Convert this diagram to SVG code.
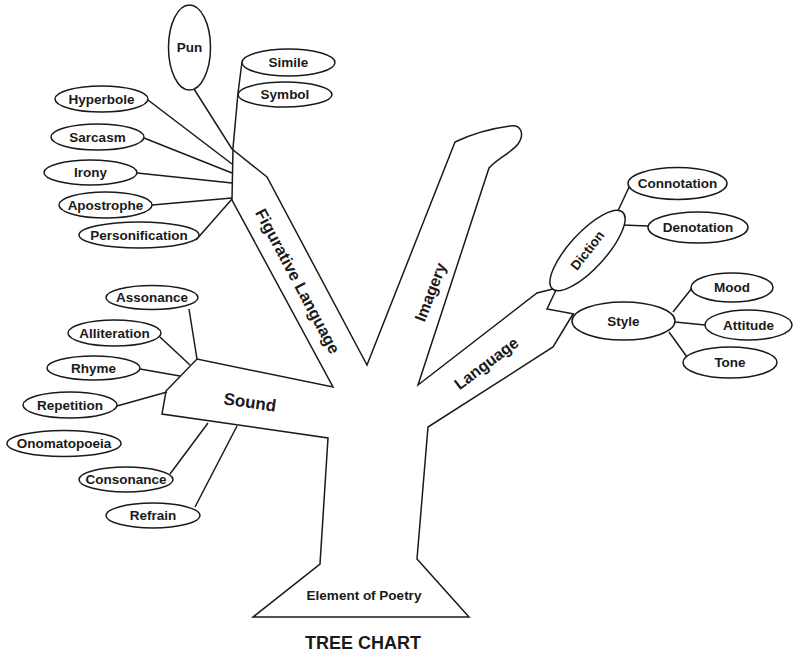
<svg xmlns="http://www.w3.org/2000/svg" width="793" height="652" viewBox="0 0 793 652">
<style>
.bg{fill:#fff}
.n ellipse{fill:#fff;stroke:#1a1a1a;stroke-width:1.5}
.n text,.lbl{font-family:"Liberation Sans",Arial,sans-serif;font-weight:bold;fill:#1a1a1a;text-anchor:middle}
.n text{font-size:13.5px}
.c polyline,.c line,.c path{fill:none;stroke:#1a1a1a;stroke-width:1.5;stroke-linejoin:miter}
</style>
<rect class="bg" width="793" height="652"/>
<g id="connectors" class="c">
<path id="tree-upper" d="M194,89 L232,149 L267,177 L367,365 L455,142 Q480,130 510,126 C521,124 525,134 518,144 C511,153 498,158 489,168 L418,385 L537,293 L557,288"/>
<path id="tree-lower" d="M242,62 L238,93 L233,148 L232,200 L333,387 L197,359 L166,391 L162,414 L328,438 L320,564 L253,617 L469,617 L417,559 L428,427 L553,347 L573,314"/>
<polyline points="557,288 547,309 574,314"/>
<line x1="148" y1="100" x2="232" y2="164"/>
<line x1="144" y1="138" x2="232" y2="173"/>
<line x1="137" y1="173" x2="232" y2="183"/>
<line x1="152" y1="205" x2="232" y2="198"/>
<line x1="196" y1="240" x2="232" y2="199"/>
<line x1="189" y1="309" x2="197" y2="359"/>
<line x1="160" y1="337" x2="190" y2="365"/>
<line x1="140" y1="369" x2="180" y2="376"/>
<line x1="117" y1="406" x2="167" y2="392"/>
<line x1="170" y1="474" x2="208" y2="423"/>
<line x1="195" y1="507" x2="237" y2="426"/>
<line x1="617" y1="213" x2="630" y2="185"/>
<line x1="622" y1="225" x2="648" y2="226"/>
<line x1="673" y1="312" x2="692" y2="288"/>
<line x1="675" y1="322" x2="705" y2="325"/>
<line x1="669" y1="332" x2="687" y2="357"/>
</g>
<g id="branch-labels">
<text class="lbl" font-size="16.5" transform="translate(298,281) rotate(62)" dy="6">Figurative Language</text>
<text class="lbl" font-size="16" transform="translate(430,292) rotate(-69)" dy="6">Imagery</text>
<text class="lbl" font-size="16" transform="translate(486,363) rotate(-37)" dy="6">Language</text>
<text class="lbl" font-size="17" transform="translate(250,402) rotate(8)" dy="6">Sound</text>
<text class="lbl" font-size="13.5" x="364" y="600">Element of Poetry</text>
<text class="lbl" font-size="18" x="363" y="649">TREE CHART</text>
</g>
<g id="pun" class="n"><ellipse cx="189.5" cy="47.5" rx="21" ry="42.5"/><text x="189.5" y="52">Pun</text></g>
<g id="simile" class="n"><ellipse cx="288.5" cy="62.5" rx="46.5" ry="13.5"/><text x="288.5" y="67">Simile</text></g>
<g id="symbol" class="n"><ellipse cx="285" cy="94.5" rx="47" ry="12.5"/><text x="285" y="99">Symbol</text></g>
<g id="hyperbole" class="n"><ellipse cx="101.5" cy="99" rx="46.5" ry="13"/><text x="101.5" y="103.5">Hyperbole</text></g>
<g id="sarcasm" class="n"><ellipse cx="97.5" cy="137" rx="46.5" ry="13"/><text x="97.5" y="141.5">Sarcasm</text></g>
<g id="irony" class="n"><ellipse cx="90.5" cy="172.5" rx="46.5" ry="12.5"/><text x="90.5" y="177">Irony</text></g>
<g id="apostrophe" class="n"><ellipse cx="105.5" cy="205" rx="46.5" ry="13"/><text x="105.5" y="209.5">Apostrophe</text></g>
<g id="personification" class="n"><ellipse cx="139" cy="235" rx="60" ry="13"/><text x="139" y="239.5">Personification</text></g>
<g id="assonance" class="n"><ellipse cx="152" cy="297.5" rx="46" ry="12"/><text x="152" y="302">Assonance</text></g>
<g id="alliteration" class="n"><ellipse cx="114.5" cy="333" rx="46.5" ry="13"/><text x="114.5" y="337.5">Alliteration</text></g>
<g id="rhyme" class="n"><ellipse cx="93.5" cy="368" rx="46.5" ry="12"/><text x="93.5" y="372.5">Rhyme</text></g>
<g id="repetition" class="n"><ellipse cx="70" cy="405" rx="47" ry="13"/><text x="70" y="409.5">Repetition</text></g>
<g id="onomatopoeia" class="n"><ellipse cx="64" cy="443.5" rx="57" ry="13"/><text x="64" y="448">Onomatopoeia</text></g>
<g id="consonance" class="n"><ellipse cx="126" cy="479.5" rx="47" ry="12.5"/><text x="126" y="484">Consonance</text></g>
<g id="refrain" class="n"><ellipse cx="153" cy="515.5" rx="47" ry="12.5"/><text x="153" y="520">Refrain</text></g>
<g id="diction" class="n"><ellipse cx="0" cy="0" rx="52" ry="18" transform="translate(587.5,250.5) rotate(-47.5)"/><text transform="translate(587.5,250.5) rotate(-52)" dy="4.5">Diction</text></g>
<g id="connotation" class="n"><ellipse cx="677.5" cy="183.5" rx="49.5" ry="16"/><text x="677.5" y="188">Connotation</text></g>
<g id="denotation" class="n"><ellipse cx="698" cy="227.5" rx="50" ry="15.5"/><text x="698" y="232">Denotation</text></g>
<g id="style" class="n"><ellipse cx="623.5" cy="321" rx="51.5" ry="19"/><text x="623.5" y="325.5">Style</text></g>
<g id="mood" class="n"><ellipse cx="732" cy="287.5" rx="41" ry="14.5"/><text x="732" y="292">Mood</text></g>
<g id="attitude" class="n"><ellipse cx="748.5" cy="325" rx="43.5" ry="15"/><text x="748.5" y="329.5">Attitude</text></g>
<g id="tone" class="n"><ellipse cx="730" cy="362.5" rx="47" ry="15.5"/><text x="730" y="367">Tone</text></g>
</svg>
